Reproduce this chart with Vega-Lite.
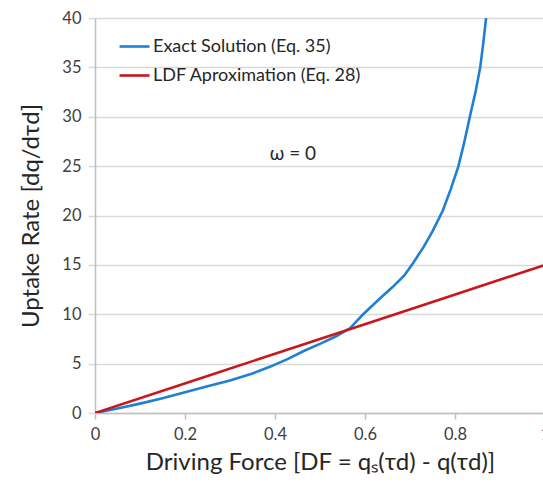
{
  "$schema": "https://vega.github.io/schema/vega-lite/v6.json",
  "width": 450,
  "height": 395,
  "autosize": "none",
  "padding": {"left": 95, "top": 18, "right": 0, "bottom": 72},
  "background": "white",
  "config": {
    "view": {"stroke": null},
    "font": "Lato"
  },
  "datasets": {
    "curves": [
      {"df": 0.0, "rate": 0.0, "series": "Exact Solution (Eq. 35)"},
      {"df": 0.05, "rate": 0.45, "series": "Exact Solution (Eq. 35)"},
      {"df": 0.1, "rate": 0.95, "series": "Exact Solution (Eq. 35)"},
      {"df": 0.15, "rate": 1.5, "series": "Exact Solution (Eq. 35)"},
      {"df": 0.2, "rate": 2.1, "series": "Exact Solution (Eq. 35)"},
      {"df": 0.25, "rate": 2.7, "series": "Exact Solution (Eq. 35)"},
      {"df": 0.3, "rate": 3.3, "series": "Exact Solution (Eq. 35)"},
      {"df": 0.35, "rate": 4.0, "series": "Exact Solution (Eq. 35)"},
      {"df": 0.39, "rate": 4.7, "series": "Exact Solution (Eq. 35)"},
      {"df": 0.43, "rate": 5.5, "series": "Exact Solution (Eq. 35)"},
      {"df": 0.465, "rate": 6.3, "series": "Exact Solution (Eq. 35)"},
      {"df": 0.5, "rate": 7.0, "series": "Exact Solution (Eq. 35)"},
      {"df": 0.537, "rate": 7.8, "series": "Exact Solution (Eq. 35)"},
      {"df": 0.567, "rate": 8.6, "series": "Exact Solution (Eq. 35)"},
      {"df": 0.596, "rate": 10.0, "series": "Exact Solution (Eq. 35)"},
      {"df": 0.633, "rate": 11.6, "series": "Exact Solution (Eq. 35)"},
      {"df": 0.66, "rate": 12.7, "series": "Exact Solution (Eq. 35)"},
      {"df": 0.687, "rate": 13.9, "series": "Exact Solution (Eq. 35)"},
      {"df": 0.707, "rate": 15.2, "series": "Exact Solution (Eq. 35)"},
      {"df": 0.73, "rate": 16.8, "series": "Exact Solution (Eq. 35)"},
      {"df": 0.75, "rate": 18.4, "series": "Exact Solution (Eq. 35)"},
      {"df": 0.773, "rate": 20.5, "series": "Exact Solution (Eq. 35)"},
      {"df": 0.79, "rate": 22.6, "series": "Exact Solution (Eq. 35)"},
      {"df": 0.807, "rate": 24.9, "series": "Exact Solution (Eq. 35)"},
      {"df": 0.82, "rate": 27.3, "series": "Exact Solution (Eq. 35)"},
      {"df": 0.833, "rate": 30.0, "series": "Exact Solution (Eq. 35)"},
      {"df": 0.846, "rate": 32.6, "series": "Exact Solution (Eq. 35)"},
      {"df": 0.856, "rate": 35.0, "series": "Exact Solution (Eq. 35)"},
      {"df": 0.863, "rate": 37.5, "series": "Exact Solution (Eq. 35)"},
      {"df": 0.869, "rate": 40.0, "series": "Exact Solution (Eq. 35)"},
      {"df": 0.0, "rate": 0.0, "series": "LDF Aproximation (Eq. 28)"},
      {"df": 0.25, "rate": 3.75, "series": "LDF Aproximation (Eq. 28)"},
      {"df": 0.5, "rate": 7.5, "series": "LDF Aproximation (Eq. 28)"},
      {"df": 0.75, "rate": 11.25, "series": "LDF Aproximation (Eq. 28)"},
      {"df": 1.0, "rate": 15.0, "series": "LDF Aproximation (Eq. 28)"}
    ],
    "note": [
      {"df": 0.44, "rate": 26.2, "label": "ω = 0"}
    ]
  },
  "layer": [
    {
      "data": {"name": "curves"},
      "mark": {"type": "line", "strokeWidth": 2.6, "clip": true},
      "encoding": {
        "x": {
          "field": "df", "type": "quantitative",
          "scale": {"domain": [0, 1], "nice": false},
          "axis": {
            "title": "Driving Force [DF = qₛ(τd) - q(τd)]",
            "values": [0, 0.2, 0.4, 0.6, 0.8, 1],
            "format": "~g",
            "grid": false,
            "domainColor": "#bfbfbf",
            "domainWidth": 1.5,
            "tickColor": "#bfbfbf",
            "tickSize": 6,
            "tickWidth": 1.5,
            "labelFontSize": 16.5,
            "labelColor": "#404040",
            "labelPadding": 7,
            "labelFlush": false,
            "titleFontSize": 24,
            "titleFontWeight": "normal",
            "titleColor": "#262626",
            "titlePadding": 8
          }
        },
        "y": {
          "field": "rate", "type": "quantitative",
          "scale": {"domain": [0, 40], "nice": false},
          "axis": {
            "title": "Uptake Rate [dq/dτd]",
            "values": [0, 5, 10, 15, 20, 25, 30, 35, 40],
            "grid": true,
            "gridColor": "#d9d9d9",
            "gridWidth": 1.5,
            "domainColor": "#bfbfbf",
            "domainWidth": 1.5,
            "tickColor": "#d9d9d9",
            "tickSize": 7,
            "tickWidth": 1.5,
            "labelFontSize": 16.5,
            "labelColor": "#404040",
            "labelPadding": 7,
            "titleFontSize": 24,
            "titleFontWeight": "normal",
            "titleColor": "#262626",
            "titlePadding": 18
          }
        },
        "color": {
          "field": "series", "type": "nominal",
          "scale": {
            "domain": ["Exact Solution (Eq. 35)", "LDF Aproximation (Eq. 28)"],
            "range": ["#1f7fd6", "#c8161d"]
          },
          "legend": {
            "title": null,
            "orient": "none",
            "legendX": 23,
            "legendY": 12,
            "symbolType": "stroke",
            "symbolSize": 900,
            "symbolStrokeWidth": 2.6,
            "labelFontSize": 18,
            "labelColor": "#262626",
            "labelOffset": 2,
            "labelLimit": 400,
            "rowPadding": 3
          }
        }
      }
    },
    {
      "data": {"name": "note"},
      "mark": {"type": "text", "fontSize": 19, "color": "#262626"},
      "encoding": {
        "x": {"field": "df", "type": "quantitative"},
        "y": {"field": "rate", "type": "quantitative"},
        "text": {"field": "label"}
      }
    }
  ]
}
